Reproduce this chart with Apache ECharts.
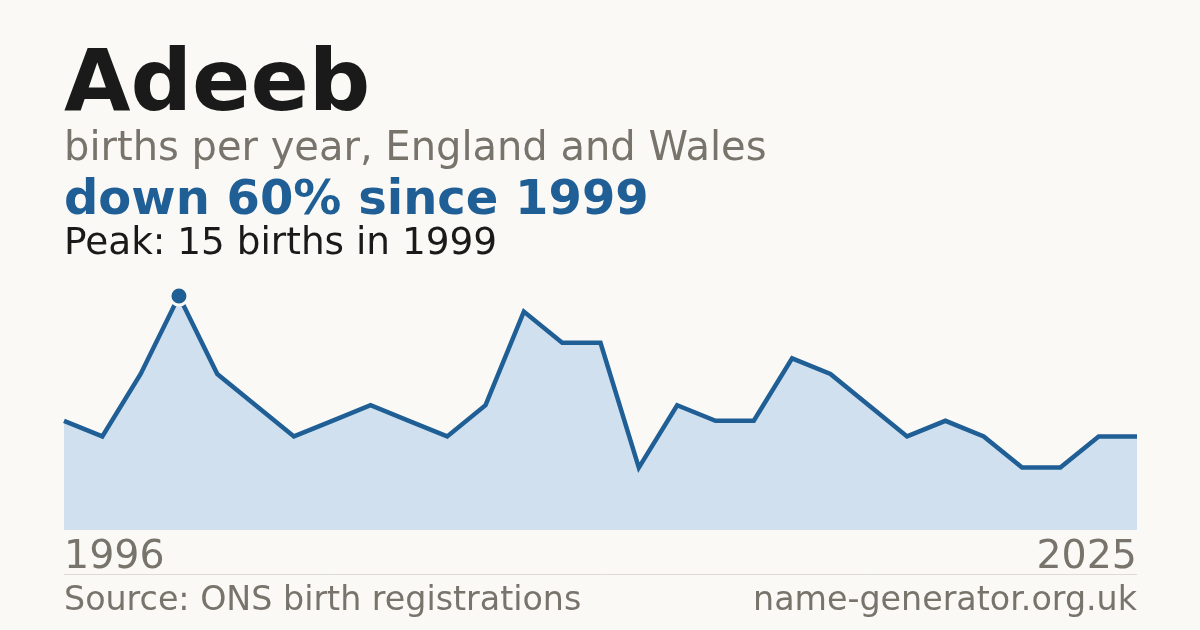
<!DOCTYPE html>
<html>
<head>
<meta charset="utf-8">
<script src="https://cdn.jsdelivr.net/npm/echarts@6/dist/echarts.min.js"></script>
<style>
html,body{margin:0;padding:0;background:#faf9f5;}
#c{width:1200px;height:630px;}
</style>
</head>
<body>
<div id="c"></div>
<script>
var years = [1996,1997,1998,1999,2000,2001,2002,2003,2004,2005,2006,2007,2008,2009,2010,2011,2012,2013,2014,2015,2016,2017,2018,2019,2020,2021,2022,2023,2024];
var births = [7,6,10,15,10,8,6,7,8,7,6,8,14,12,12,4,8,7,7,11,10,8,6,7,6,4,4,6,6];
var tickLabels = ['1996','2025'];
var peakIndex = 3;

var GRAY = '#78746c';
var BLUE = '#1f5f96';

var seriesData = births.map(function (v, i) {
  if (i === peakIndex) {
    return { value: v, symbol: 'circle', symbolSize: 18,
      itemStyle: { color: BLUE, borderColor: '#faf9f5', borderWidth: 3 } };
  }
  return { value: v, symbol: 'none' };
});

var chart = echarts.init(document.getElementById('c'));
chart.setOption({
  backgroundColor: '#faf9f5',
  animation: false,
  grid: { left: 64, right: 63, top: 296, bottom: 100 },
  xAxis: {
    type: 'category', data: years, boundaryGap: false,
    axisLine: { show: false }, axisTick: { show: false }, axisLabel: { show: false }, splitLine: { show: false }
  },
  yAxis: {
    type: 'value', min: 0, max: 15,
    axisLine: { show: false }, axisTick: { show: false }, axisLabel: { show: false }, splitLine: { show: false }
  },
  series: [{
    type: 'line', data: seriesData, clip: false, showSymbol: true,
    lineStyle: { color: BLUE, width: 4.5, join: 'miter' },
    areaStyle: { color: '#d0e0ef', opacity: 1 },
    itemStyle: { color: BLUE },
    z: 2
  }],
  graphic: [
    { type: 'text', left: 64, top: 45, style: { text: 'Adeeb', font: 'bold 86px "DejaVu Sans"', fill: '#1a1a1a' } },
    { type: 'text', left: 64, top: 130, style: { text: 'births per year, England and Wales', font: '40px "DejaVu Sans"', fill: GRAY } },
    { type: 'text', left: 64, top: 178, style: { text: 'down 60% since 1999', font: 'bold 48px "DejaVu Sans"', fill: BLUE } },
    { type: 'text', left: 64, top: 226, style: { text: 'Peak: 15 births in 1999', font: '37.4px "DejaVu Sans"', fill: '#1a1a1a' } },
    { type: 'text', left: 64, top: 538, style: { text: tickLabels[0], font: '39.5px "DejaVu Sans"', fill: GRAY } },
    { type: 'text', right: 63, top: 538, style: { text: tickLabels[1], font: '39.5px "DejaVu Sans"', fill: GRAY } },
    { type: 'line', shape: { x1: 64, y1: 574.5, x2: 1137, y2: 574.5 }, style: { stroke: '#dedbd4', lineWidth: 1 } },
    { type: 'text', left: 64, top: 585, style: { text: 'Source: ONS birth registrations', font: '33.3px "DejaVu Sans"', fill: GRAY } },
    { type: 'text', right: 63, top: 585, style: { text: 'name-generator.org.uk', font: '33.3px "DejaVu Sans"', fill: GRAY } }
  ]
});
</script>
</body>
</html>
